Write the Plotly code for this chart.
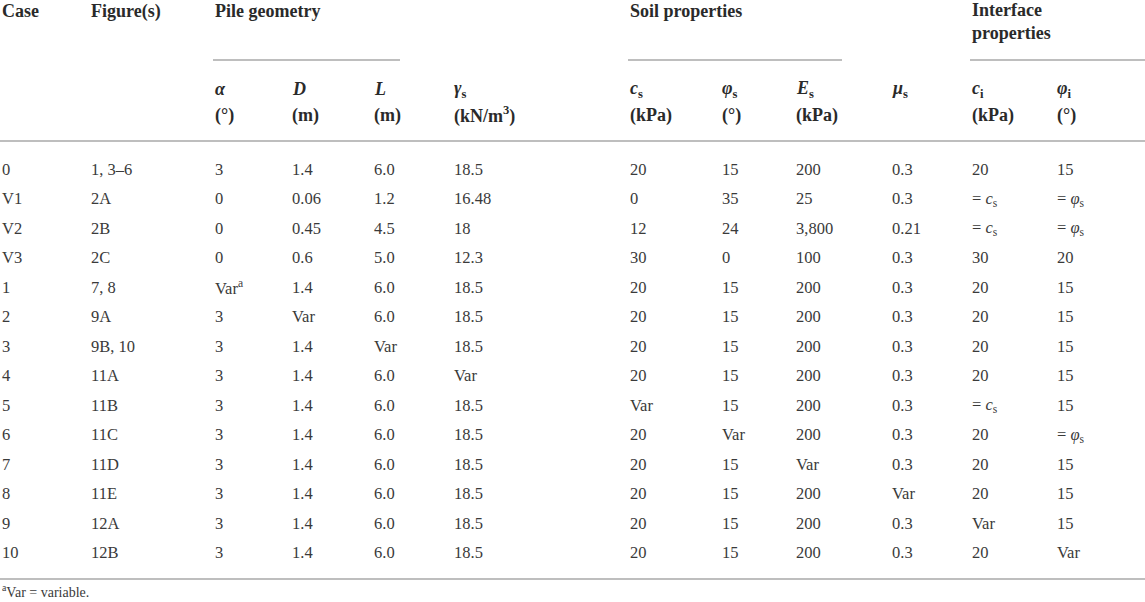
import plotly.graph_objects as go

# table contents, one list per column
case = ["0", "V1", "V2", "V3", "1", "2", "3", "4", "5", "6", "7", "8", "9", "10"]
figures = ["1, 3–6", "2A", "2B", "2C", "7, 8", "9A", "9B, 10", "11A", "11B",
           "11C", "11D", "11E", "12A", "12B"]
alpha = ["3", "0", "0", "0", "Var<sup>a</sup>", "3", "3", "3", "3", "3", "3", "3", "3", "3"]
diam = ["1.4", "0.06", "0.45", "0.6", "1.4", "Var", "1.4", "1.4", "1.4", "1.4",
        "1.4", "1.4", "1.4", "1.4"]
length = ["6.0", "1.2", "4.5", "5.0", "6.0", "6.0", "Var", "6.0", "6.0", "6.0",
          "6.0", "6.0", "6.0", "6.0"]
gamma_s = ["18.5", "16.48", "18", "12.3", "18.5", "18.5", "18.5", "Var", "18.5",
           "18.5", "18.5", "18.5", "18.5", "18.5"]
c_s = ["20", "0", "12", "30", "20", "20", "20", "20", "Var", "20", "20", "20", "20", "20"]
phi_s = ["15", "35", "24", "0", "15", "15", "15", "15", "15", "Var", "15", "15", "15", "15"]
e_s = ["200", "25", "3,800", "100", "200", "200", "200", "200", "200", "200",
       "Var", "200", "200", "200"]
mu_s = ["0.3", "0.3", "0.21", "0.3", "0.3", "0.3", "0.3", "0.3", "0.3", "0.3",
        "0.3", "Var", "0.3", "0.3"]
EQ_C = "= <i>c</i><sub>s</sub>"
EQ_PHI = "= <i>φ</i><sub>s</sub>"
c_i = ["20", EQ_C, EQ_C, "30", "20", "20", "20", "20", EQ_C, "20", "20", "20", "Var", "20"]
phi_i = ["15", EQ_PHI, EQ_PHI, "20", "15", "15", "15", "15", "15", EQ_PHI,
         "15", "15", "15", "Var"]

columns = [case, figures, alpha, diam, length, gamma_s, c_s, phi_s, e_s, mu_s, c_i, phi_i]
symbols = ["", "", "<i>α</i>", "<i>D</i>", "<i>L</i>", "<i>γ</i><sub>s</sub>",
           "<i>c</i><sub>s</sub>", "<i>φ</i><sub>s</sub>", "<i>E</i><sub>s</sub>",
           "<i>μ</i><sub>s</sub>", "<i>c</i><sub>i</sub>", "<i>φ</i><sub>i</sub>"]
units = ["", "", "(°)", "(m)", "(m)", "(kN/m<sup>3</sup>)", "(kPa)", "(°)", "(kPa)",
         "", "(kPa)", "(°)"]
footnote = "<sup>a</sup>Var = variable."

# layout
W, H = 1145, 602
col_x = [0, 89, 213, 290, 372, 452, 628, 720, 794, 890, 970, 1055]
ROW0, ROW_H = 169, 29.5
FONT = "Liberation Serif"
TXT = "#3a3a3a"
HEAD = "#2a2a2a"
RULE = "#a8a8a8"

fig = go.Figure()
fig.add_trace(go.Scatter(x=[0, W], y=[0, H], mode="markers",
                         marker=dict(opacity=0), hoverinfo="skip", showlegend=False))


def put(x, y, text, size=16, color=TXT):
    fig.add_annotation(x=x, y=y, text=text, showarrow=False, xanchor="left",
                       yanchor="middle", xref="x", yref="y",
                       font=dict(family=FONT, size=size, color=color))


# top header row
put(col_x[0], 11, "<b>Case</b>", 18, HEAD)
put(col_x[1], 11, "<b>Figure(s)</b>", 18, HEAD)
put(col_x[2], 11, "<b>Pile geometry</b>", 18, HEAD)
put(col_x[6], 11, "<b>Soil properties</b>", 18, HEAD)
put(col_x[10], 10, "<b>Interface</b>", 18, HEAD)
put(col_x[10], 33, "<b>properties</b>", 18, HEAD)

# second header row
for x, s, u in zip(col_x, symbols, units):
    if s:
        put(x, 89, "<b>" + s + "</b>", 18, HEAD)
    if u:
        put(x, 115, "<b>" + u + "</b>", 18, HEAD)

# body
for x, col in zip(col_x, columns):
    for i, v in enumerate(col):
        put(x, ROW0 + i * ROW_H, v, 16.5)

put(0, 591, footnote, 14)


def rule(x0, x1, y, width=1.5):
    fig.add_shape(type="line", xref="x", yref="y", x0=x0, x1=x1, y0=y, y1=y,
                  line=dict(color=RULE, width=width))


rule(213, 400, 60)
rule(628, 842, 60)
rule(970, W, 60)
rule(0, W, 141)
rule(0, W, 579)

fig.update_xaxes(range=[0, W], visible=False, fixedrange=True)
fig.update_yaxes(range=[H, 0], visible=False, fixedrange=True)
fig.update_layout(width=W, height=H, margin=dict(l=0, r=0, t=0, b=0),
                  plot_bgcolor="white", paper_bgcolor="white")

fig.write_html("out.html", config={"displayModeBar": False},
               post_script="document.body.style.margin='0';"
                           "document.body.style.overflow='hidden';")
